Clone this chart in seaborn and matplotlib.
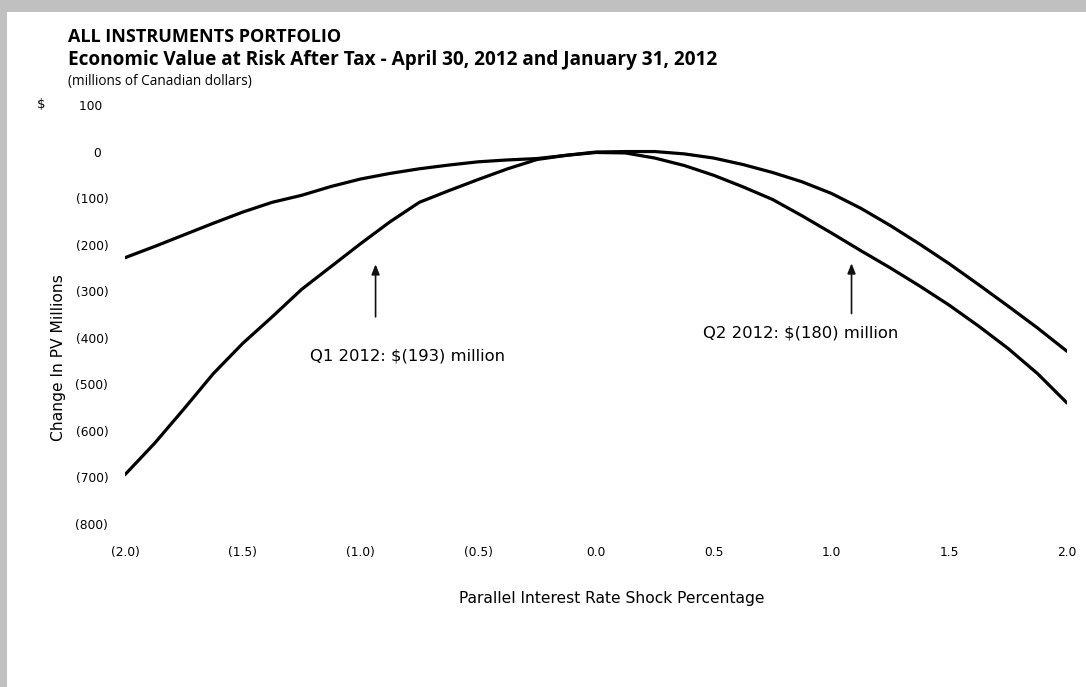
import numpy as np
import pandas as pd
import matplotlib
matplotlib.use("Agg")
import matplotlib.pyplot as plt
from matplotlib.patches import Rectangle
import seaborn as sns

# ---- data ----
shock = [-2.0, -1.875, -1.75, -1.625, -1.5, -1.375, -1.25, -1.125, -1.0,
         -0.875, -0.75, -0.625, -0.5, -0.375, -0.25, -0.125, 0.0,
         0.125, 0.25, 0.375, 0.5, 0.625, 0.75, 0.875, 1.0,
         1.125, 1.25, 1.375, 1.5, 1.625, 1.75, 1.875, 2.0]
q1_2012 = [-694, -627, -553, -477, -412, -355, -296, -247, -198,
           -151, -109, -84, -60, -37, -17, -8, -1,
           0, 0, -5, -14, -28, -45, -65, -90,
           -122, -159, -199, -241, -286, -332, -379, -429]
q2_2012 = [-228, -204, -179, -154, -130, -109, -94, -75, -59,
           -47, -37, -29, -22, -18, -15, -8, -2,
           -3, -14, -30, -51, -76, -103, -138, -175,
           -213, -250, -289, -330, -375, -423, -477, -540]
y_ticks = [100, 0, -100, -200, -300, -400, -500, -600, -700, -800]
x_ticks = [-2.0, -1.5, -1.0, -0.5, 0.0, 0.5, 1.0, 1.5, 2.0]
title1 = "ALL INSTRUMENTS PORTFOLIO"
title2 = "Economic Value at Risk After Tax - April 30, 2012 and January 31, 2012"
subtitle = "(millions of Canadian dollars)"
q1_note = "Q1 2012: $(193) million"
q2_note = "Q2 2012: $(180) million"

df = pd.DataFrame({
    "shock": shock * 2,
    "value": q1_2012 + q2_2012,
    "series": ["Q1 2012"] * len(shock) + ["Q2 2012"] * len(shock),
})

sns.set_theme(style="white")
plt.rcParams["font.family"] = ["DejaVu Sans"]
plt.rcParams["text.color"] = "black"
plt.rcParams["axes.labelcolor"] = "black"
plt.rcParams["xtick.color"] = "black"
plt.rcParams["ytick.color"] = "black"
TITLE_FONT = ["Open Sans", "DejaVu Sans"]

W, H = 1086, 687
fig = plt.figure(figsize=(W / 100, H / 100), dpi=100)
fig.patch.set_facecolor("#c0c0c0")
fig.patches.append(Rectangle((7 / W, 0), 1, 1 - 12 / H, transform=fig.transFigure,
                             facecolor="white", edgecolor="none", zorder=-10))

ax = fig.add_axes([125 / W, 1 - 524 / H, (1067 - 125) / W, (524 - 105) / H])
ax.set_facecolor("none")
sns.lineplot(data=df, x="shock", y="value", hue="series",
             palette=["black", "black"], linewidth=2.3, legend=False, ax=ax,
             sort=False)
for ln in ax.lines:
    ln.set_solid_joinstyle("round")
    ln.set_solid_capstyle("round")
ax.set_xlim(-2.0, 2.0)
ax.set_ylim(-800, 100)
for s in ax.spines.values():
    s.set_visible(False)

def ylab(v):
    if v < 0:
        return f"({-v:,.0f})"
    return f"{v:.0f}\u2002"

ax.set_yticks(y_ticks)
ax.set_yticklabels([ylab(v) for v in y_ticks])
ax.set_xticks(x_ticks)
ax.set_xticklabels([f"({-v:.1f})" if v < 0 else f"{v:.1f}" for v in x_ticks])
ax.tick_params(axis="both", length=0, labelsize=8.8, colors="black")
ax.tick_params(axis="y", pad=12)
ax.tick_params(axis="x", pad=16)
ax.set_xlabel("Parallel Interest Rate Shock Percentage", fontsize=11.2, color="black")
ax.xaxis.set_label_coords((612 - 125) / (1067 - 125), (524 - 598) / (524 - 105))
ax.xaxis.label.set_va("center")
ax.set_ylabel("Change In PV Millions", fontsize=11.2, color="black")
ax.yaxis.set_label_coords((58 - 125) / (1067 - 125), (524 - 358) / (524 - 105))
ax.yaxis.label.set_va("center")

# annotations
arrow_kw = dict(arrowstyle="-|>,head_length=0.5,head_width=0.2", color="#111111", lw=1.2)
ax.annotate("", xy=(-0.936, -236), xytext=(-0.936, -361), arrowprops=arrow_kw)
ax.annotate("", xy=(1.085, -234), xytext=(1.085, -354), arrowprops=arrow_kw)
ax.text(-1.213, -440, q1_note, fontsize=11.8, va="center", ha="left", color="black")
ax.text(0.455, -389, q2_note, fontsize=11.8, va="center", ha="left", color="black")

# titles
fig.text(68 / W, 1 - 37 / H, title1, fontsize=13, fontweight="bold", va="center",
         ha="left", family=TITLE_FONT, color="black")
fig.text(68 / W, 1 - 60 / H, title2, fontsize=13.7, fontweight="bold", va="center",
         ha="left", family=TITLE_FONT, color="black")
fig.text(68 / W, 1 - 82 / H, subtitle, fontsize=9.8, va="center", ha="left",
         family=TITLE_FONT, color="black")
fig.text(37 / W, 1 - 105 / H, "$", fontsize=9.5, va="center", ha="left", color="black")

fig.savefig("out.png", dpi=100, facecolor=fig.get_facecolor())
